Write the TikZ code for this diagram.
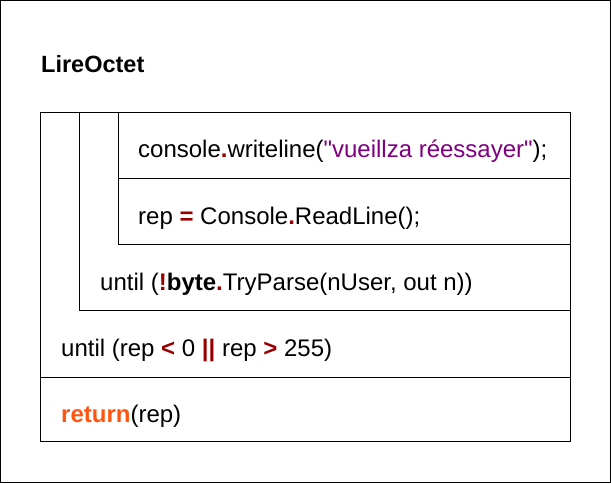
\documentclass[tikz,border=0pt]{standalone}
\usepackage{fontspec}
\setmainfont{Liberation Sans}
\definecolor{opred}{HTML}{990000}
\definecolor{strpurple}{HTML}{800080}
\definecolor{kworange}{HTML}{FF5511}
\newcommand{\opc}[1]{{\bfseries\color{opred}#1}}
\newcommand{\sq}{\XeTeXglyph\XeTeXcharglyph"22\relax}
\begin{document}
\begin{tikzpicture}[x=1pt,y=-1pt,
  txt/.style={anchor=base west,inner sep=0pt,font=\fontsize{24}{28}\selectfont},
  frame/.style={draw=black,line width=1pt}]
\useasboundingbox (0,0) rectangle (611,483);
\draw[frame] (0.5,0.5) rectangle (610.5,482.5);
% title
\node[txt,font=\fontsize{23.5}{28}\selectfont\bfseries] (title) at (41,72) {LireOctet};
% boxes
\draw[frame] (40.5,112.5) rectangle (570.5,441.5);
\draw[frame] (79.5,112.5) -- (79.5,310.5) -- (570.5,310.5);
\draw[frame] (118.5,112.5) -- (118.5,244.5) -- (570.5,244.5);
\draw[frame] (118.5,178.5) -- (570.5,178.5);
\draw[frame] (40.5,377.5) -- (570.5,377.5);
% texts
\node[txt] (write) at (138,157) {console\opc{.}writeline({\color{strpurple}\sq vueillza réessayer\sq});};
\node[txt] (read) at (138,224) {rep \opc{=} Console\opc{.}ReadLine();};
\node[txt] (untilbyte) at (100,290) {until (\opc{!}{\bfseries byte}\opc{.}TryParse(nUser, out n))};
\node[txt] (untilrep) at (61,356) {until (rep \opc{<} 0 \opc{||} rep \opc{>} 255)};
\node[txt] (ret) at (61,422) {{\bfseries\color{kworange}return}(rep)};
\end{tikzpicture}
\end{document}
